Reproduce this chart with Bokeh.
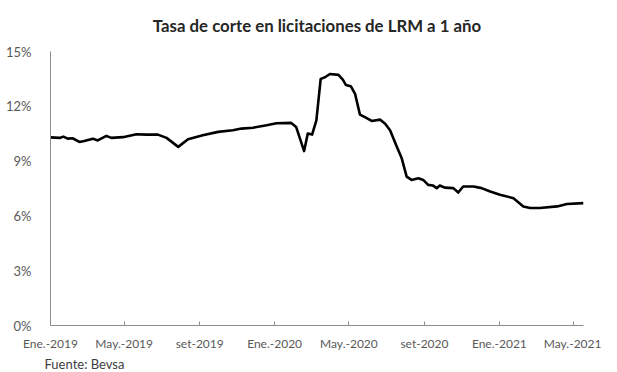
from datetime import datetime
import pandas as pd
from bokeh.plotting import figure
from bokeh.models import Range1d, FixedTicker, Title, ColumnDataSource
from bokeh.embed import file_html
from bokeh.resources import INLINE

# ---- data ----
dates = [
    "2019-01-01", "2019-01-16", "2019-01-22", "2019-01-29", "2019-02-06", "2019-02-17",
    "2019-02-25", "2019-03-11", "2019-03-19", "2019-04-02", "2019-04-10", "2019-04-29",
    "2019-05-21", "2019-06-06", "2019-06-25", "2019-07-09", "2019-07-28", "2019-08-13",
    "2019-09-06", "2019-10-01", "2019-10-25", "2019-11-08", "2019-11-27", "2019-12-19",
    "2020-01-04", "2020-01-28", "2020-02-05", "2020-02-18", "2020-02-24", "2020-03-02",
    "2020-03-09", "2020-03-16", "2020-03-23", "2020-03-31", "2020-04-14", "2020-04-21",
    "2020-04-26", "2020-05-04", "2020-05-11", "2020-05-19", "2020-05-27", "2020-06-07",
    "2020-06-21", "2020-06-29", "2020-07-07", "2020-07-18", "2020-07-26", "2020-08-03",
    "2020-08-11", "2020-08-22", "2020-08-30", "2020-09-07", "2020-09-15", "2020-09-21",
    "2020-09-26", "2020-10-04", "2020-10-18", "2020-10-26", "2020-11-03", "2020-11-20",
    "2020-12-03", "2020-12-17", "2021-01-02", "2021-01-24", "2021-02-09", "2021-02-20",
    "2021-03-08", "2021-04-05", "2021-04-21", "2021-05-18",
]
rates = [
    10.30, 10.27, 10.34, 10.23, 10.25, 10.05,
    10.10, 10.23, 10.13, 10.38, 10.27, 10.31,
    10.47, 10.45, 10.45, 10.27, 9.78, 10.20,
    10.42, 10.60, 10.69, 10.78, 10.83, 10.96,
    11.07, 11.09, 10.87, 9.55, 10.51, 10.45,
    11.23, 13.50, 13.59, 13.77, 13.72, 13.46,
    13.17, 13.10, 12.68, 11.54, 11.41, 11.20,
    11.27, 11.05, 10.69, 9.78, 9.15, 8.15,
    7.97, 8.06, 7.97, 7.70, 7.66, 7.52,
    7.66, 7.55, 7.52, 7.28, 7.61, 7.61,
    7.52, 7.34, 7.16, 6.97, 6.52, 6.43,
    6.43, 6.52, 6.65, 6.70,
]
tick_dates = ["2019-01-01", "2019-05-01", "2019-09-01", "2020-01-01",
              "2020-05-01", "2020-09-01", "2021-01-01", "2021-05-01"]
tick_labels = ["Ene.-2019", "May.-2019", "set-2019", "Ene.-2020",
               "May.-2020", "set-2020", "Ene.-2021", "May.-2021"]
y_ticks = [0, 3, 6, 9, 12, 15]
y_labels = ["0%", "3%", "6%", "9%", "12%", "15%"]

title_text = "Tasa de corte en licitaciones de LRM a 1 año"
source_text = "Fuente: Bevsa"

FONT = "Lato"
TEXT_COL = "#595959"
AXIS_COL = "#8c8c8c"

src = ColumnDataSource(dict(x=pd.to_datetime(dates), y=rates))

p = figure(width=601, height=371, output_backend="svg", toolbar_location=None,
           x_axis_type="datetime",
           x_range=Range1d(datetime(2019, 1, 1), datetime(2021, 5, 18)),
           y_range=Range1d(0, 15),
           min_border_left=50, min_border_right=18, min_border_top=48,
           min_border_bottom=46)

p.title.text = title_text
p.title.align = "center"
p.title.offset = -20
p.title.vertical_align = "top"
p.title.standoff = 28
p.title.text_font = FONT
p.title.text_font_style = "bold"
p.title.text_font_size = "16.8px"
p.title.text_color = "#262626"

p.line("x", "y", source=src, line_width=2.6, line_color="black", line_join="round")

tick_ms = [int(pd.Timestamp(d).value // 10**6) for d in tick_dates]
p.xaxis.ticker = FixedTicker(ticks=tick_ms)
p.xaxis.major_label_overrides = {t: l for t, l in zip(tick_ms, tick_labels)}
p.xaxis.axis_line_color = AXIS_COL
p.xaxis.major_tick_line_color = AXIS_COL
p.xaxis.major_tick_in = 4
p.xaxis.major_tick_out = 0
p.xaxis.minor_tick_line_color = None
p.xaxis.major_label_text_font = FONT
p.xaxis.major_label_text_font_size = "12px"
p.xaxis.major_label_text_color = TEXT_COL
p.xaxis.major_label_standoff = 10

p.yaxis.ticker = FixedTicker(ticks=y_ticks)
p.yaxis.major_label_overrides = {t: l for t, l in zip(y_ticks, y_labels)}
p.yaxis.axis_line_color = AXIS_COL
p.yaxis.major_tick_line_color = None
p.yaxis.minor_tick_line_color = None
p.yaxis.major_label_text_font = FONT
p.yaxis.major_label_text_font_size = "13px"
p.yaxis.major_label_text_color = TEXT_COL
p.yaxis.major_label_standoff = 13

p.xgrid.visible = False
p.ygrid.visible = False
p.outline_line_color = None

p.add_layout(Title(text=source_text, align="left", text_font=FONT,
                   text_font_size="13px", text_font_style="normal",
                   text_color="#404040", offset=-6, standoff=0,
                   vertical_align="bottom"), "below")

open("out.html", "w").write(file_html(p, INLINE))
